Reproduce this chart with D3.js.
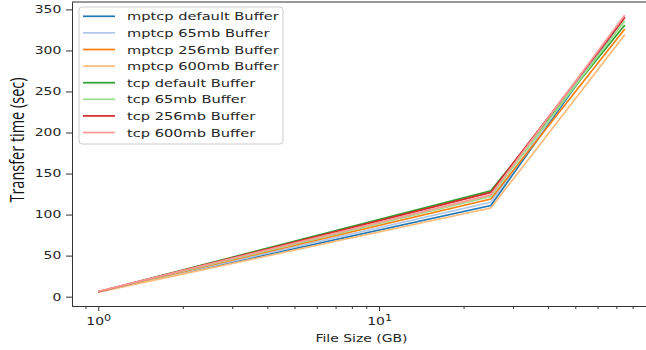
<!DOCTYPE html>
<html>
<head>
<meta charset="utf-8">
<script src="https://cdn.jsdelivr.net/npm/d3@7"></script>
<style>
  body { margin: 0; background: #fff; }
  text { font-family: "DejaVu Sans", sans-serif; fill: #262626; }
</style>
</head>
<body>
<script>
// file sizes (GB) and transfer times (sec)
var sizes = [1, 25, 75]
var seriesNames = ["mptcp default Buffer", "mptcp 65mb Buffer", "mptcp 256mb Buffer", "mptcp 600mb Buffer",
                   "tcp default Buffer", "tcp 65mb Buffer", "tcp 256mb Buffer", "tcp 600mb Buffer"]
var mptcpDefault = [6, 111, 341]
var mptcp65 = [6, 115, 342]
var mptcp256 = [6, 119, 326]
var mptcp600 = [5.5, 108, 319]
var tcpDefault = [6, 129, 331]
var tcp65 = [6, 122, 336]
var tcp256 = [6, 127, 340]
var tcp600 = [6.5, 124, 343]
var yTicks = [0, 50, 100, 150, 200, 250, 300, 350]
var xMajor = [1, 10]
var xMinor = [0.9, 2, 3, 4, 5, 6, 7, 8, 9, 20, 30, 40, 50, 60, 70, 80, 90]

var allSeries = [mptcpDefault, mptcp65, mptcp256, mptcp600, tcpDefault, tcp65, tcp256, tcp600]
var colors = ["#1f77b4", "#aec7e8", "#ff7f0e", "#ffbb78", "#2ca02c", "#98df8a", "#d62728", "#ff9896"]

var W = 646, H = 350
var stretch = 1.33   // the picture is widened sideways, so are its texts
var margin = {top: 2, left: 72, bottom: 44, right: -5}

var svg = d3.select("body").append("svg")
    .attr("width", W).attr("height", H)

svg.append("rect").attr("width", W).attr("height", H).attr("fill", "#fff")

var x = d3.scaleLog()
    .domain([0.806, 93])
    .range([margin.left, W - margin.right])

var y = d3.scaleLinear()
    .domain([-11.4, 359])
    .range([H - margin.bottom, margin.top])

// lines
var line = d3.line()
    .x(function(d, i){ return x(sizes[i]) })
    .y(function(d){ return y(d) })

svg.selectAll("path.series").data(allSeries).enter()
    .append("path")
      .attr("class", "series")
      .attr("d", line)
      .attr("fill", "none")
      .attr("stroke", function(d, i){ return colors[i] })
      .attr("stroke-width", 1.7)

// y axis
var yAxis = svg.append("g")
    .attr("transform", `translate(${margin.left},0)`)
    .call(d3.axisLeft(y).tickValues(yTicks).tickSize(6).tickPadding(2).tickSizeOuter(0))
yAxis.selectAll(".tick text")
    .attr("font-size", 10.5).attr("font-family", "DejaVu Sans")
    .attr("transform", `scale(${stretch},1)`)

// x axis (minor then major)
svg.append("g")
    .attr("transform", `translate(0,${H - margin.bottom})`)
    .call(d3.axisBottom(x).tickValues(xMinor).tickSize(3).tickFormat("").tickSizeOuter(0))
var xAxis = svg.append("g")
    .attr("transform", `translate(0,${H - margin.bottom})`)
    .call(d3.axisBottom(x).tickValues(xMajor).tickSize(5).tickPadding(7).tickSizeOuter(0))
xAxis.selectAll(".tick text")
    .attr("font-size", 10.5).attr("font-family", "DejaVu Sans")
    .attr("transform", `scale(${stretch},1)`)
    .each(function(d){
      var t = d3.select(this).text("10")
      t.append("tspan").attr("dy", "-0.5em").attr("font-size", "0.8em").text(Math.round(Math.log10(d)))
    })

svg.selectAll(".domain, .tick line").attr("stroke", "#333")

// top spine
svg.append("line")
    .attr("x1", margin.left).attr("x2", W + 10)
    .attr("y1", margin.top).attr("y2", margin.top)
    .attr("stroke", "#333")

// labels
svg.append("text")
    .attr("transform", `translate(${(margin.left + 651) / 2},342) scale(${stretch},1)`)
    .attr("text-anchor", "middle")
    .attr("font-size", 10.5)
    .text("File Size (GB)")

svg.append("text")
    .attr("transform", `translate(24,140) scale(${stretch},1) rotate(-90)`)
    .attr("text-anchor", "middle")
    .style("font-family", "'Open Sans', sans-serif")
    .style("fill", "#111")
    .attr("font-size", 14.5)
    .text("Transfer time (sec)")

// legend
var legend = svg.append("g").attr("transform", "translate(79,7)")
legend.append("rect")
    .attr("width", 204).attr("height", 137)
    .attr("rx", 3)
    .attr("fill", "#fff").attr("fill-opacity", 0.85)
    .attr("stroke", "#ccc")

var rows = legend.selectAll("g.row").data(seriesNames).enter()
    .append("g")
      .attr("class", "row")
      .attr("transform", function(d, i){ return `translate(0,${9.3 + i * 16.6})` })
rows.append("line")
    .attr("x1", 4).attr("x2", 36)
    .attr("stroke", function(d, i){ return colors[i] })
    .attr("stroke-width", 1.7)
rows.append("text")
    .attr("transform", `translate(48,4) scale(${stretch},1)`)
    .attr("font-size", 11)
    .text(function(d){ return d })
</script>
</body>
</html>
